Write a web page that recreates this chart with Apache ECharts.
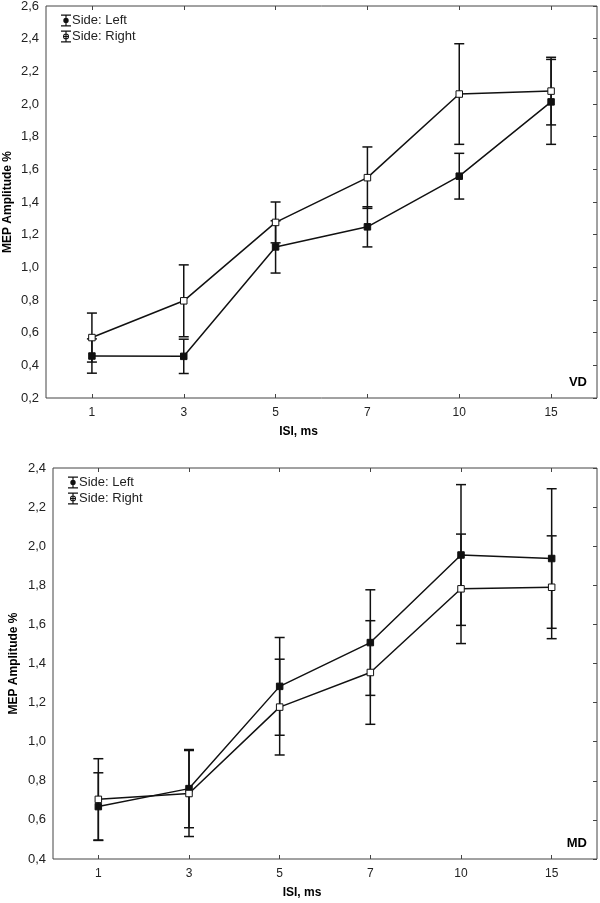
<!DOCTYPE html>
<html>
<head>
<meta charset="utf-8">
<script src="https://cdn.jsdelivr.net/npm/echarts@6/dist/echarts.min.js"></script>
<style>html,body{margin:0;padding:0;background:#fff}#c{width:600px;height:903px}</style>
</head>
<body>
<div id="c"></div>
<script>
const categories = ['1', '3', '5', '7', '10', '15'];
const xAxisTitle = 'ISI, ms';
const yAxisTitle = 'MEP Amplitude %';
const seriesNames = ['Side: Left', 'Side: Right'];

// Panel VD (top)
const vdLeft = [0.457, 0.455, 1.125, 1.248, 1.558, 2.013];
const vdLeftErr = [0.105, 0.105, 0.16, 0.123, 0.14, 0.26];
const vdRight = [0.57, 0.795, 1.275, 1.549, 2.061, 2.079];
const vdRightErr = [0.15, 0.22, 0.125, 0.188, 0.308, 0.207];

// Panel MD (bottom)
const mdLeft = [0.668, 0.76, 1.283, 1.507, 1.955, 1.937];
const mdLeftErr = [0.173, 0.2, 0.25, 0.27, 0.36, 0.357];
const mdRight = [0.705, 0.735, 1.177, 1.354, 1.782, 1.79];
const mdRightErr = [0.208, 0.22, 0.245, 0.265, 0.28, 0.263];

const panels = [
  { label: 'VD', left: vdLeft, leftErr: vdLeftErr, right: vdRight, rightErr: vdRightErr, min: 0.2, max: 2.6 },
  { label: 'MD', left: mdLeft, leftErr: mdLeftErr, right: mdRight, rightErr: mdRightErr, min: 0.4, max: 2.4 }
];

const FONT = "'Liberation Sans', Arial, sans-serif";
const grids = [
  { left: 46, top: 6, width: 551, height: 392 },
  { left: 53, top: 468, width: 544, height: 391 }
];
const nameGaps = [32, 33];

const iconLeft = 'path://M0 0H10V1.2H0Z M0 10.8H10V12H0Z M4.4 0H5.6V12H4.4Z M2.3 6A2.7 2.7 0 1 1 7.7 6A2.7 2.7 0 1 1 2.3 6Z';
const iconRight = 'path://M0 0H10V1.2H0Z M0 10.8H10V12H0Z M4.4 0H5.6V12H4.4Z M2 5.4H8V6.6H2Z M2 6A3 3 0 1 1 8 6A3 3 0 1 1 2 6Z M3 6A2 2 0 1 0 7 6A2 2 0 1 0 3 6Z';

function errData(vals, errs) {
  return vals.map((v, i) => [i, v - errs[i], v + errs[i]]);
}

function errRender(params, api) {
  const i = api.value(0);
  const lo = api.coord([i, api.value(1)]);
  const hi = api.coord([i, api.value(2)]);
  const hw = 5;
  const st = { stroke: '#111', lineWidth: 1.5 };
  return {
    type: 'group',
    children: [
      { type: 'line', shape: { x1: lo[0], y1: lo[1], x2: hi[0], y2: hi[1] }, style: st },
      { type: 'line', shape: { x1: lo[0] - hw, y1: lo[1], x2: lo[0] + hw, y2: lo[1] }, style: st },
      { type: 'line', shape: { x1: hi[0] - hw, y1: hi[1], x2: hi[0] + hw, y2: hi[1] }, style: st }
    ]
  };
}

const xAxes = [], yAxes = [], series = [], legends = [], graphics = [];
const fmt = v => v.toFixed(1).replace('.', ',');

panels.forEach((p, gi) => {
  xAxes.push({
    type: 'category', gridIndex: gi, data: categories, position: 'bottom',
    name: xAxisTitle, nameLocation: 'middle', nameGap: 28, nameMoveOverlap: false,
    nameTextStyle: { fontFamily: FONT, fontWeight: 'bold', fontSize: 12, color: '#000', padding: [0, 46, 0, 0] },
    axisLine: { show: false },
    axisTick: { show: true, inside: true, alignWithLabel: true, length: 4, lineStyle: { color: '#444' } },
    axisLabel: { fontFamily: FONT, fontSize: 12, color: '#222', margin: 9 },
    splitLine: { show: false }
  });
  xAxes.push({
    type: 'category', gridIndex: gi, data: categories, position: 'top',
    axisLine: { show: false },
    axisTick: { show: true, inside: true, alignWithLabel: true, length: 4, lineStyle: { color: '#444' } },
    axisLabel: { show: false }, splitLine: { show: false }
  });
  yAxes.push({
    type: 'value', gridIndex: gi, min: p.min, max: p.max, interval: 0.2, position: 'left',
    name: yAxisTitle, nameLocation: 'middle', nameGap: nameGaps[gi], nameMoveOverlap: false,
    nameTextStyle: { fontFamily: FONT, fontWeight: 'bold', fontSize: 12, color: '#000' },
    axisLine: { show: false }, axisTick: { show: false },
    axisLabel: { fontFamily: FONT, fontSize: 13, color: '#222', margin: 7, formatter: fmt },
    splitLine: { show: false }
  });
  yAxes.push({
    type: 'value', gridIndex: gi, min: p.min, max: p.max, interval: 0.2, position: 'right',
    axisLine: { show: false },
    axisTick: { show: true, inside: true, length: 4, lineStyle: { color: '#444' } },
    axisLabel: { show: false }, splitLine: { show: false }
  });
  const xi = gi * 2, yi = gi * 2;
  series.push({
    name: seriesNames[0], type: 'custom', xAxisIndex: xi, yAxisIndex: yi,
    renderItem: errRender, data: errData(p.left, p.leftErr), z: 2, silent: true
  });
  series.push({
    name: seriesNames[1], type: 'custom', xAxisIndex: xi, yAxisIndex: yi,
    renderItem: errRender, data: errData(p.right, p.rightErr), z: 2, silent: true
  });
  series.push({
    name: seriesNames[0], type: 'line', xAxisIndex: xi, yAxisIndex: yi, data: p.left,
    symbol: 'rect', symbolSize: 6.5, lineStyle: { color: '#111', width: 1.5 },
    itemStyle: { color: '#111', borderColor: '#111', borderWidth: 1 }, z: 3, animation: false
  });
  series.push({
    name: seriesNames[1], type: 'line', xAxisIndex: xi, yAxisIndex: yi, data: p.right,
    symbol: 'rect', symbolSize: 6.5, showAllSymbol: true, lineStyle: { color: '#111', width: 1.5 },
    itemStyle: { color: '#fff', borderColor: '#111', borderWidth: 1 }, z: 3, animation: false
  });
  legends.push({
    orient: 'vertical', left: grids[gi].left + 15, top: grids[gi].top + 8,
    padding: 0,
    itemWidth: 10, itemHeight: 12, itemGap: 3, selectedMode: false,
    textStyle: { fontFamily: FONT, fontSize: 13, color: '#222', padding: [0, 0, 0, -4] },
    data: [
      { name: seriesNames[0], icon: iconLeft, itemStyle: { color: '#111' } },
      { name: seriesNames[1], icon: iconRight, itemStyle: { color: '#111' } }
    ]
  });
  graphics.push({
    type: 'text', right: 600 - (grids[gi].left + grids[gi].width) + 10,
    top: grids[gi].top + grids[gi].height - 22,
    style: { text: p.label, font: 'bold 13px ' + FONT, fill: '#000' }
  });
});

const chart = echarts.init(document.getElementById('c'), null, { renderer: 'canvas' });
chart.setOption({
  backgroundColor: '#fff',
  animation: false,
  grid: grids.map(g => Object.assign({ show: true, borderColor: '#444', borderWidth: 1, backgroundColor: 'transparent', containLabel: false, outerBoundsMode: 'none' }, g)),
  xAxis: xAxes,
  yAxis: yAxes,
  legend: legends,
  series: series,
  graphic: graphics
});
</script>
</body>
</html>
